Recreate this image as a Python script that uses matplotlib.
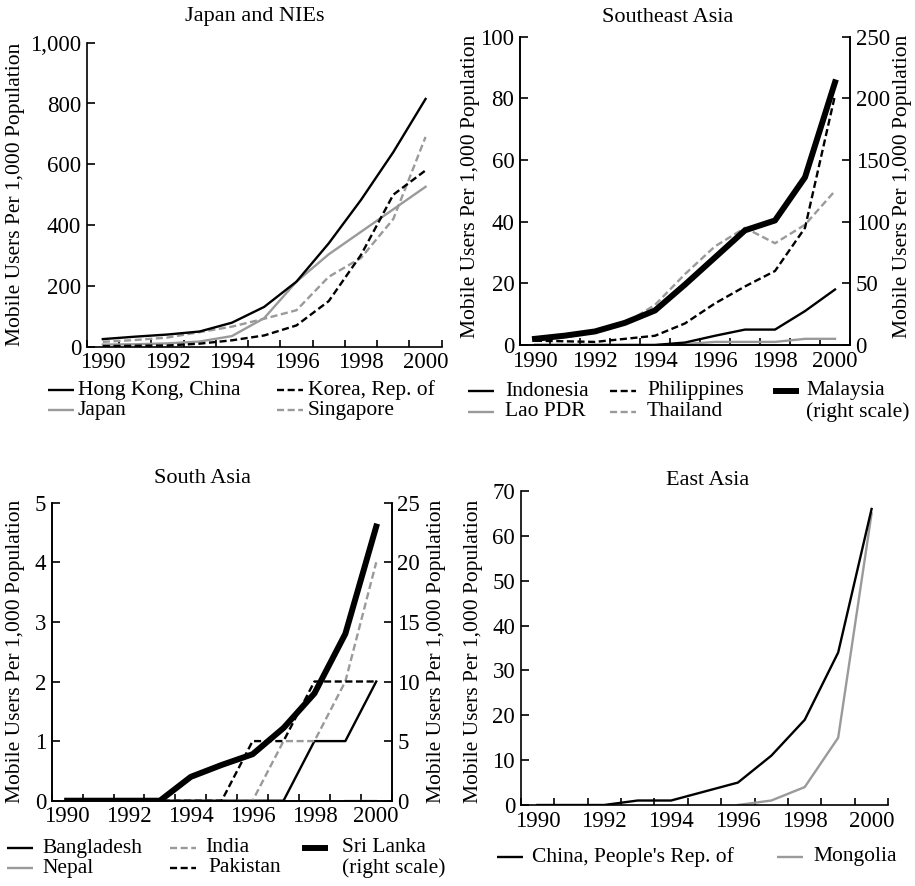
import matplotlib.pyplot as plt
import numpy as np
from matplotlib.lines import Line2D

plt.rcParams["font.family"] = ["Liberation Serif", "DejaVu Serif"]
plt.rcParams["font.size"] = 16

W, H = 915, 886
GRAY = "#9a9a9a"
DASH = (3.0, 1.5)
THIN = 1.7
THICK = 4.3

years = np.arange(1990, 2001)
year_labels = ["1990", "1992", "1994", "1996", "1998", "2000"]
ylabel = "Mobile Users Per 1,000 Population"
nan = np.nan

# Japan and NIEs
hong_kong = [25, 33, 40, 50, 79, 131, 214, 340, 483, 640, 815]
japan = [7, 8, 11, 17, 35, 94, 214, 304, 378, 452, 526]
korea = [2, 3, 4, 10, 21, 37, 70, 150, 302, 500, 580]
singapore = [16, 22, 30, 48, 66, 92, 120, 230, 292, 420, 690]

# Southeast Asia (Malaysia on right scale)
indonesia = [0, 0, 0, 0, 0, 0.8, 3, 5, 5, 11, 18]
lao = [0, 0, 0, 0, 0, 0.3, 1, 1, 1, 2, 2]
philippines = [1.4, 1.2, 1, 2, 3, 7, 13.5, 19, 24, 38, 81]
thailand = [1.4, 2.5, 4, 7, 13, 23, 32, 38, 33, 39, 50]
malaysia = [5, 7.6, 11, 18, 28, 49, 71, 93, 101, 136, 213]

# South Asia (Sri Lanka on right scale)
bangladesh = [0, 0, 0, 0, 0, 0, 0, 0, 1, 1, 2]
nepal = [nan] * 9 + [0, 0]
india = [0, 0, 0, 0, 0, 0, 0, 1, 1, 2, 4]
pakistan = [0, 0, 0, 0, 0, 0, 1, 1, 2, 2, 2]
sri_lanka = [0, 0, 0, 0, 2.0, 3.0, 3.9, 6.1, 9.0, 14.0, 23.0]

# East Asia
china = [0, 0, 0, 1, 1, 3, 5, 11, 19, 34, 66]
mongolia = [nan] * 6 + [0, 1, 4, 15, 65]

x = np.arange(len(years))

fig = plt.figure(figsize=(W / 100, H / 100), dpi=100)


def px_axes(left, top, right, bottom):
    return fig.add_axes([left / W, 1 - bottom / H, (right - left) / W, (bottom - top) / H])


def style(ax, ymax, yticks, ylabels, right=False):
    ax.set_xlim(-0.5, len(years) - 0.5)
    ax.set_ylim(0, ymax)
    ax.spines["top"].set_visible(False)
    if not right:
        ax.spines["right"].set_visible(False)
    for s in ax.spines.values():
        s.set_linewidth(1.2)
    ax.set_yticks(yticks, labels=ylabels)
    ax.tick_params(axis="y", direction="in", length=6, width=1.2, pad=4, labelsize=16.5)


def style_x(ax):
    ax.set_xticks(np.arange(-0.5, len(years)), labels=[""] * (len(years) + 1))
    ax.set_xticks(x[::2], labels=year_labels, minor=True)
    ax.tick_params(axis="x", which="major", direction="in", length=5, width=1.2)
    ax.tick_params(axis="x", which="minor", length=0, pad=4, labelsize=16.5)


def legend_item(hx, tx, y, label, color="black", lw=THIN, dashed=False):
    if label:
        line = Line2D([hx / W, (hx + 26) / W], [1 - y / H] * 2, transform=fig.transFigure,
                      color=color, lw=lw, solid_capstyle="butt")
        if dashed:
            line.set_dashes(DASH)
        fig.add_artist(line)
    fig.text(tx / W, 1 - y / H, label if label else "(right scale)", va="center", ha="left",
             fontsize=15.5)


# ---- Japan and NIEs
ax = px_axes(86.7, 42.7, 441.7, 346.7)
ax.plot(x, singapore, color=GRAY, lw=THIN, dashes=DASH)
ax.plot(x, japan, color=GRAY, lw=THIN)
ax.plot(x, korea, color="black", lw=THIN, dashes=DASH)
ax.plot(x, hong_kong, color="black", lw=THIN)
style(ax, 1000, [0, 200, 400, 600, 800, 1000], ["0", "200", "400", "600", "800", "1,000"])
style_x(ax)
ax.set_ylabel(ylabel, fontsize=15.5)
ax.yaxis.set_label_coords(-0.174, 0.5)
fig.text(255 / W, 1 - 16 / H, "Japan and NIEs", ha="center", va="center")

legend_item(48, 78, 390, "Hong Kong, China")
legend_item(277, 308, 390, "Korea, Rep. of", dashed=True)
legend_item(48, 78, 410, "Japan", color=GRAY)
legend_item(277, 308, 410, "Singapore", color=GRAY, dashed=True)

# ---- Southeast Asia
ax = px_axes(520, 36.7, 850, 345)
ax.plot(x, lao, color=GRAY, lw=THIN)
ax.plot(x, indonesia, color="black", lw=THIN)
ax.plot(x, thailand, color=GRAY, lw=THIN, dashes=DASH)
ax.plot(x, philippines, color="black", lw=THIN, dashes=DASH)
style(ax, 100, [0, 20, 40, 60, 80, 100], ["0", "20", "40", "60", "80", "100"], right=True)
style_x(ax)
ax.set_ylabel(ylabel, fontsize=15.5)
ax.yaxis.set_label_coords(-0.121, 0.515)
ax2 = ax.twinx()
ax2.plot(x, malaysia, color="black", lw=THICK)
style(ax2, 250, [0, 50, 100, 150, 200, 250], ["0", "50", "100", "150", "200", "250"], right=True)
ax2.set_ylabel(ylabel, fontsize=15.5)
ax2.yaxis.set_label_coords(1.13, 0.515)
fig.text(668 / W, 1 - 17 / H, "Southeast Asia", ha="center", va="center")

legend_item(468, 505, 391, "Indonesia")
legend_item(610, 647, 391, "Philippines", dashed=True)
legend_item(773, 806, 391, "Malaysia", lw=THICK)
legend_item(468, 505, 412, "Lao PDR", color=GRAY)
legend_item(610, 647, 412, "Thailand", color=GRAY, dashed=True)
legend_item(773, 806, 412, None)

# ---- South Asia
ax = px_axes(51.7, 502.7, 391.7, 800.7)
ax.plot(x, nepal, color=GRAY, lw=THIN)
ax.plot(x, bangladesh, color="black", lw=THIN)
ax.plot(x, india, color=GRAY, lw=THIN, dashes=DASH)
ax.plot(x, pakistan, color="black", lw=THIN, dashes=DASH)
style(ax, 5, [0, 1, 2, 3, 4, 5], ["0", "1", "2", "3", "4", "5"], right=True)
style_x(ax)
ax.set_ylabel(ylabel, fontsize=15.5)
ax.yaxis.set_label_coords(-0.0785, 0.5)
ax2 = ax.twinx()
ax2.plot(x, sri_lanka, color="black", lw=THICK)
style(ax2, 25, [0, 5, 10, 15, 20, 25], ["0", "5", "10", "15", "20", "25"], right=True)
ax2.set_ylabel(ylabel, fontsize=15.5)
ax2.yaxis.set_label_coords(1.104, 0.5)
fig.text(203 / W, 1 - 479 / H, "South Asia", ha="center", va="center")

legend_item(7, 42, 848, "Bangladesh")
legend_item(170, 205, 848, "India", color=GRAY, dashed=True)
legend_item(302, 342, 848, "Sri Lanka", lw=THICK)
legend_item(7, 42, 868, "Nepal", color=GRAY)
legend_item(170, 208, 868, "Pakistan", dashed=True)
legend_item(302, 342, 868, None)

# ---- East Asia
ax = px_axes(520.7, 491, 888.3, 805)
ax.plot(x, mongolia, color=GRAY, lw=THIN)
ax.plot(x, china, color="black", lw=THIN)
style(ax, 70, [0, 10, 20, 30, 40, 50, 60, 70], ["0", "10", "20", "30", "40", "50", "60", "70"])
style_x(ax)
ax.set_ylabel(ylabel, fontsize=15.5)
ax.yaxis.set_label_coords(-0.1026, 0.49)
fig.text(708 / W, 1 - 480 / H, "East Asia", ha="center", va="center")

legend_item(497, 532, 857, "China, People's Rep. of")
legend_item(777, 813, 857, "Mongolia", color=GRAY)

fig.savefig("out.png", dpi=100)
